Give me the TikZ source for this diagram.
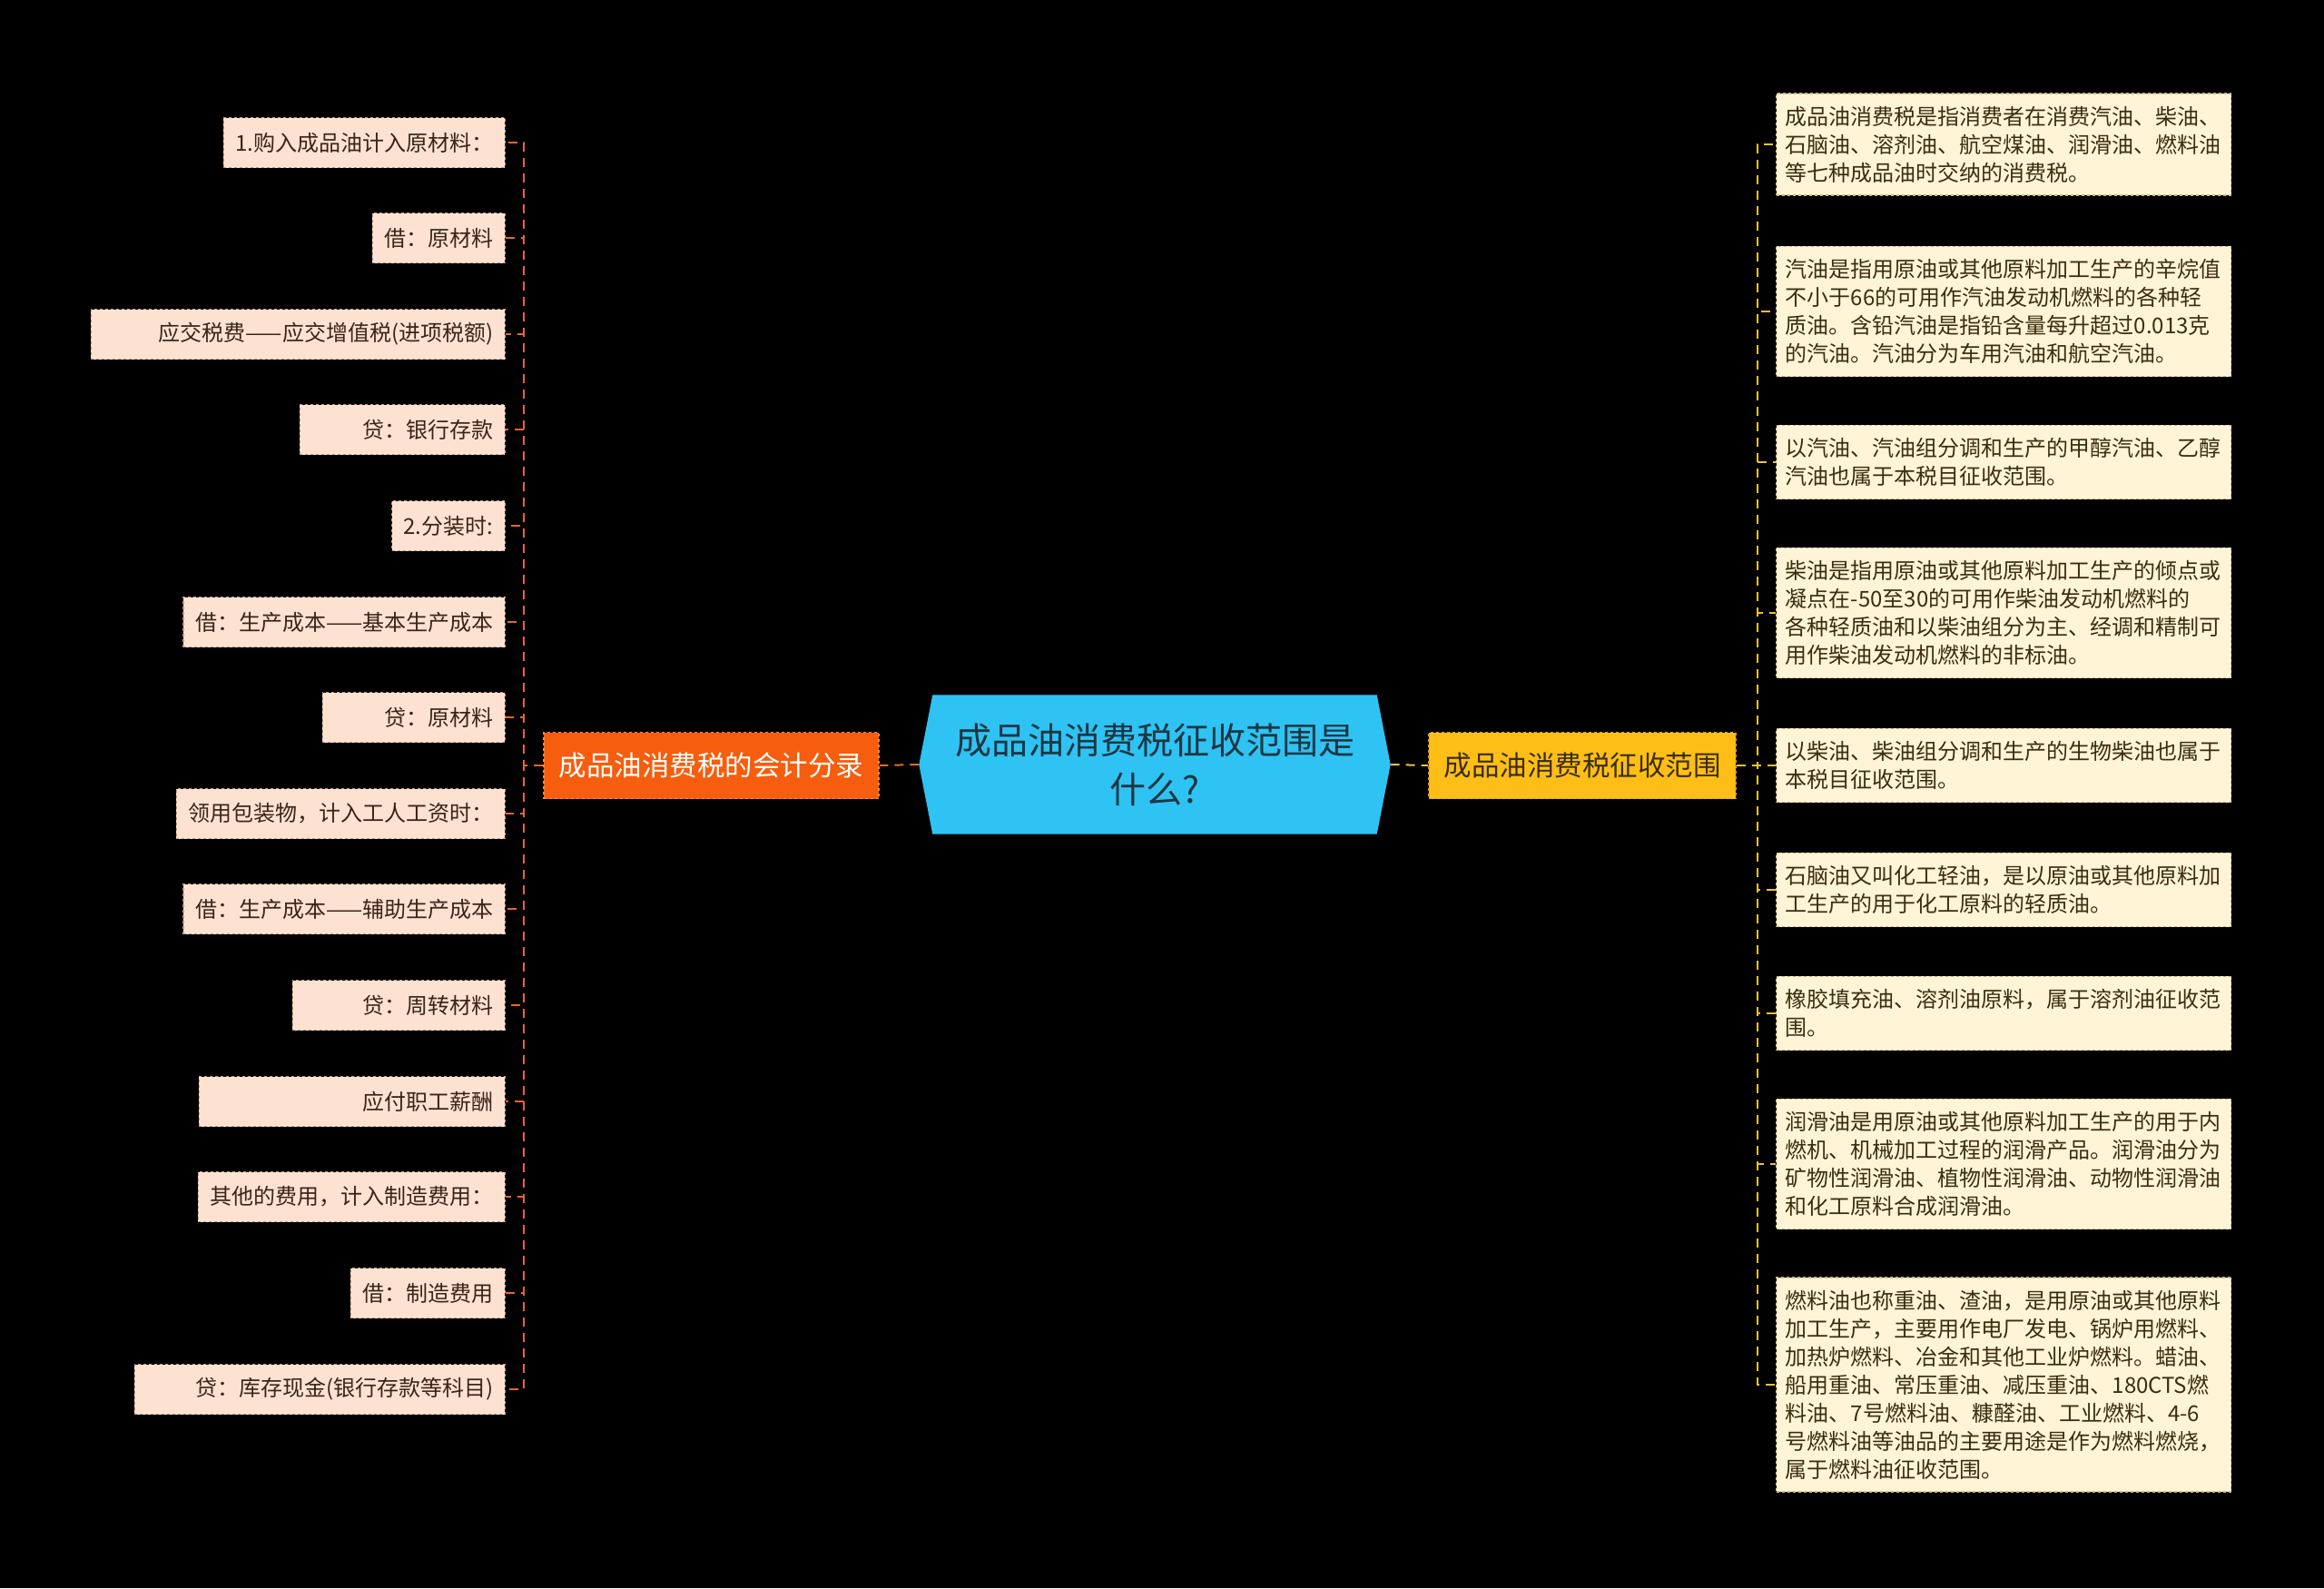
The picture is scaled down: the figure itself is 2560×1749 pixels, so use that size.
\documentclass[tikz,border=0pt]{standalone}
\usepackage{fontspec}
\newfontfamily\cjk{Noto Sans CJK SC}
\usetikzlibrary{backgrounds}
\definecolor{bgc}{HTML}{000000}
\definecolor{ccyan}{HTML}{2EC3F2}
\definecolor{ctext}{HTML}{1E3644}
\definecolor{lmainc}{HTML}{F65D0E}
\definecolor{lmainb}{HTML}{FF8A4A}
\definecolor{rmainc}{HTML}{FDBE18}
\definecolor{rmainb}{HTML}{E9A400}
\definecolor{lleaf}{HTML}{FDE2D2}
\definecolor{lleafb}{HTML}{C9977E}
\definecolor{lltext}{HTML}{3A2418}
\definecolor{rleaf}{HTML}{FFF4D6}
\definecolor{rleafb}{HTML}{CDB98A}
\definecolor{rltext}{HTML}{3A2E0C}
\definecolor{lcon}{HTML}{E4682C}
\definecolor{rcon}{HTML}{F2C136}
\tikzset{
  lleafbox/.style={anchor=east, fill=lleaf, draw=lleafb, dashed, line width=1.4pt,
    font=\cjk\fontsize{24}{30}\selectfont, text=lltext, inner xsep=13pt,
    minimum height=55pt, inner ysep=0pt},
  lw/.style={text width=#1-26pt, align=right},
  rleafbox/.style={anchor=west, fill=rleaf, draw=rleafb, dashed, line width=1.4pt,
    font=\cjk\fontsize{24}{31}\selectfont, text=rltext, text width=481pt,
    inner xsep=10pt, inner ysep=14pt, align=left},
  lmainbox/.style={fill=lmainc, draw=lmainb, dashed, line width=1.5pt,
    font=\cjk\fontsize{30.5}{38}\selectfont, text=white, minimum width=369pt,
    minimum height=73pt, inner sep=0pt},
  rmainbox/.style={fill=rmainc, draw=rmainb, dashed, line width=1.5pt,
    font=\cjk\fontsize{30.5}{38}\selectfont, text=rltext, minimum width=338pt,
    minimum height=73pt, inner sep=0pt},
  centerbox/.style={font=\cjk\fontsize{40}{54}\selectfont, text=ctext,
    minimum width=519pt, minimum height=153pt, inner sep=0pt, align=center},
  lconn/.style={draw=lcon, line width=2pt, dash pattern=on 10pt off 7pt},
  rconn/.style={draw=rcon, line width=2pt, dash pattern=on 10pt off 7pt},
}
\begin{document}
\begin{tikzpicture}[x=1pt,y=-1pt]
\begin{scope}[on background layer]
\fill[bgc] (0,0) rectangle (2560,1749);
\end{scope}
\useasboundingbox (0,0) rectangle (2560,1749);

% center
\node[centerbox] (c) at (1272,842) {成品油消费税征收范围是\\什么?};
\begin{scope}[on background layer]
\fill[ccyan] (c.west) -- ([xshift=15pt]c.north west) -- ([xshift=-15pt]c.north east)
  -- (c.east) -- ([xshift=-15pt]c.south east) -- ([xshift=15pt]c.south west) -- cycle;
\end{scope}

% main branches
\node[lmainbox] (lm) at (783.5,843) {成品油消费税的会计分录};
\node[rmainbox] (rm) at (1743,843) {成品油消费税征收范围};

% left leaves
\node[lleafbox] (l1) at (557,157) {1.购入成品油计入原材料：};
\node[lleafbox] (l2) at (557,262) {借：原材料};
\node[lleafbox, lw=456pt] (l3) at (557,368) {应交税费——应交增值税(进项税额)};
\node[lleafbox, lw=226pt] (l4) at (557,473) {贷：银行存款};
\node[lleafbox] (l5) at (557,579) {2.分装时:};
\node[lleafbox] (l6) at (557,685) {借：生产成本——基本生产成本};
\node[lleafbox, lw=201pt] (l7) at (557,790) {贷：原材料};
\node[lleafbox] (l8) at (557,896) {领用包装物，计入工人工资时：};
\node[lleafbox] (l9) at (557,1001) {借：生产成本——辅助生产成本};
\node[lleafbox, lw=234pt] (l10) at (557,1107) {贷：周转材料};
\node[lleafbox, lw=337pt] (l11) at (557,1213) {应付职工薪酬};
\node[lleafbox] (l12) at (557,1318) {其他的费用，计入制造费用：};
\node[lleafbox] (l13) at (557,1424) {借：制造费用};
\node[lleafbox, lw=408pt] (l14) at (557,1530) {贷：库存现金(银行存款等科目)};

% right leaves
\node[rleafbox] (r1) at (1956,159) {成品油消费税是指消费者在消费汽油、柴油、\\石脑油、溶剂油、航空煤油、润滑油、燃料油\\等七种成品油时交纳的消费税。};
\node[rleafbox] (r2) at (1956,343) {汽油是指用原油或其他原料加工生产的辛烷值\\不小于66的可用作汽油发动机燃料的各种轻\\质油。含铅汽油是指铅含量每升超过0.013克\\的汽油。汽油分为车用汽油和航空汽油。};
\node[rleafbox] (r3) at (1956,509) {以汽油、汽油组分调和生产的甲醇汽油、乙醇\\汽油也属于本税目征收范围。};
\node[rleafbox] (r4) at (1956,675) {柴油是指用原油或其他原料加工生产的倾点或\\凝点在-50至30的可用作柴油发动机燃料的\\各种轻质油和以柴油组分为主、经调和精制可\\用作柴油发动机燃料的非标油。};
\node[rleafbox] (r5) at (1956,843) {以柴油、柴油组分调和生产的生物柴油也属于\\本税目征收范围。};
\node[rleafbox] (r6) at (1956,980) {石脑油又叫化工轻油，是以原油或其他原料加\\工生产的用于化工原料的轻质油。};
\node[rleafbox] (r7) at (1956,1116) {橡胶填充油、溶剂油原料，属于溶剂油征收范\\围。};
\node[rleafbox] (r8) at (1956,1282) {润滑油是用原油或其他原料加工生产的用于内\\燃机、机械加工过程的润滑产品。润滑油分为\\矿物性润滑油、植物性润滑油、动物性润滑油\\和化工原料合成润滑油。};
\node[rleafbox] (r9) at (1956,1525) {燃料油也称重油、渣油，是用原油或其他原料\\加工生产，主要用作电厂发电、锅炉用燃料、\\加热炉燃料、冶金和其他工业炉燃料。蜡油、\\船用重油、常压重油、减压重油、180CTS燃\\料油、7号燃料油、糠醛油、工业燃料、4-6\\号燃料油等油品的主要用途是作为燃料燃烧，\\属于燃料油征收范围。};

% connectors
\begin{scope}[on background layer]
\draw[lconn] (c.west) -- (lm.east);
\draw[rconn] (c.east) -- (rm.west);
\foreach \i in {1,...,14} {
  \draw[lconn] (lm.west) -- ++(-21,0) |- (l\i.east);
}
\foreach \i in {1,...,9} {
  \draw[rconn] (rm.east) -- ++(23,0) |- (r\i.west);
}
\end{scope}
\end{tikzpicture}
\end{document}
